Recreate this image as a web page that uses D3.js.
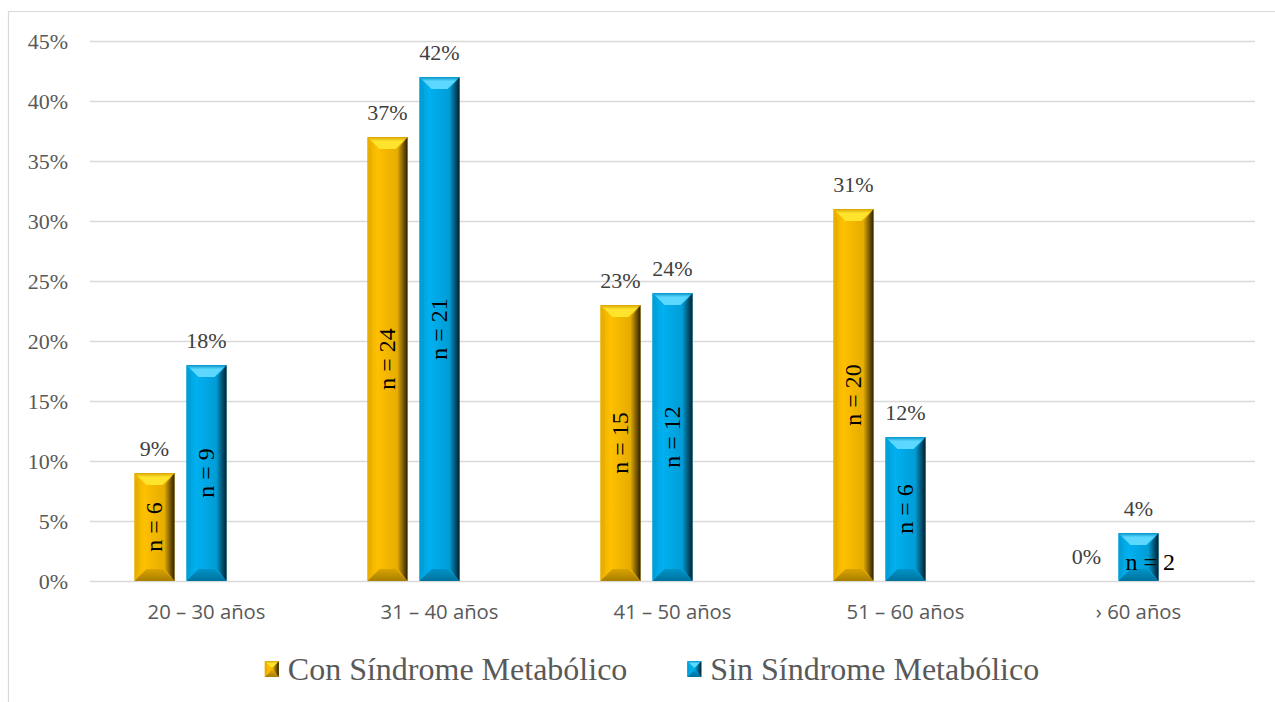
<!DOCTYPE html>
<html>
<head>
<meta charset="utf-8">
<script src="https://cdn.jsdelivr.net/npm/d3@7"></script>
<style>
  html, body { margin: 0; padding: 0; background: #fff; }
  svg { display: block; }
</style>
</head>
<body>
<svg id="chart" width="1275" height="702"></svg>
<script>
// Age groups and the share of patients in each, by metabolic syndrome status
const categories = ["20 – 30 años", "31 – 40 años", "41 – 50 años", "51 – 60 años", "› 60 años"];
const conValues = [9, 37, 23, 31, 0];
const sinValues = [18, 42, 24, 12, 4];
const conCounts = [6, 24, 15, 20, 0];
const sinCounts = [9, 21, 12, 6, 2];
const seriesNames = ["Con Síndrome Metabólico", "Sin Síndrome Metabólico"];
const yTicks = [0, 5, 10, 15, 20, 25, 30, 35, 40, 45];

const W = 1275, H = 702;
const plot = { left: 90, right: 1255, top: 41, bottom: 581 };

const svg = d3.select("#chart");

// chart frame
svg.append("path")
  .attr("d", `M8.5,${H} V11.5 H${W}`)
  .attr("fill", "none").attr("stroke", "#d9d9d9").attr("stroke-width", 1.2);

const y = d3.scaleLinear().domain([0, 45]).range([plot.bottom, plot.top]);
const x0 = d3.scaleBand().domain(categories).range([plot.left, plot.right]).padding(0);
// third slot is an empty series that keeps the pair offset left within each group
const x1 = d3.scaleBand().domain(["con", "sin", "blank"]).range([0, x0.bandwidth()])
  .paddingInner(0.23).paddingOuter(0.856);

// gridlines
svg.append("g").selectAll("line").data(yTicks).join("line")
  .attr("x1", plot.left).attr("x2", plot.right)
  .attr("y1", d => Math.round(y(d)) + 0.5).attr("y2", d => Math.round(y(d)) + 0.5)
  .attr("stroke", "#d9d9d9").attr("stroke-width", 1.3);

// y axis labels
const yAxis = d3.axisLeft(y).tickValues(yTicks).tickSize(0).tickPadding(0)
  .tickFormat(d => d + "%");
svg.append("g").attr("transform", `translate(68,0)`).call(yAxis)
  .call(g => g.select(".domain").remove())
  .selectAll("text")
  .attr("font-family", "'Liberation Serif', 'Times New Roman', serif")
  .attr("font-size", 22).attr("fill", "#595959").attr("dy", "0.34em");

// x axis labels
const xAxis = d3.axisBottom(x0).tickSize(0).tickPadding(0);
svg.append("g").attr("transform", `translate(0,${plot.bottom + 31})`).call(xAxis)
  .call(g => g.select(".domain").remove())
  .selectAll("text")
  .attr("font-family", "'Open Sans', 'Liberation Sans', sans-serif")
  .attr("font-size", 20.3).attr("fill", "#595959").attr("dy", "0.35em");

// bevel palettes
const palettes = {
  con: { main: "#ffc000", light: "#ffe42e", left: "#e8ae00", dark: "#2e2000", bottom: "#a87e00", mid: "#d9a300" },
  sin: { main: "#00b0f0", light: "#5cd8ff", left: "#009fd8", dark: "#00202e", bottom: "#00729c", mid: "#0093c8" }
};

const defs = svg.append("defs");
Object.entries(palettes).forEach(([k, p]) => {
  const gBody = defs.append("linearGradient").attr("id", "body-" + k)
    .attr("x1", 0).attr("x2", 1).attr("y1", 0).attr("y2", 0);
  gBody.append("stop").attr("offset", "0%").attr("stop-color", p.left);
  gBody.append("stop").attr("offset", "25%").attr("stop-color", p.main);
  gBody.append("stop").attr("offset", "100%").attr("stop-color", p.mid);
  const gRight = defs.append("linearGradient").attr("id", "right-" + k)
    .attr("x1", 0).attr("x2", 1).attr("y1", 0).attr("y2", 0);
  gRight.append("stop").attr("offset", "0%").attr("stop-color", p.mid);
  gRight.append("stop").attr("offset", "100%").attr("stop-color", p.dark);
  const gTop = defs.append("linearGradient").attr("id", "top-" + k)
    .attr("x1", 0).attr("x2", 0).attr("y1", 0).attr("y2", 1);
  gTop.append("stop").attr("offset", "0%").attr("stop-color", p.mid);
  gTop.append("stop").attr("offset", "35%").attr("stop-color", p.light);
  gTop.append("stop").attr("offset", "100%").attr("stop-color", p.light);
  const gBottom = defs.append("linearGradient").attr("id", "bottom-" + k)
    .attr("x1", 0).attr("x2", 0).attr("y1", 0).attr("y2", 1);
  gBottom.append("stop").attr("offset", "0%").attr("stop-color", p.mid);
  gBottom.append("stop").attr("offset", "100%").attr("stop-color", p.bottom);
});

// draws one beveled box
function bevelBox(g, k, bx, by, bw, bh, bev) {
  const b = Math.min(bev, bw / 2, bh / 2);
  const p = palettes[k];
  const pts = a => a.map(q => q.join(",")).join(" ");
  g.append("rect").attr("x", bx).attr("y", by).attr("width", bw).attr("height", bh)
    .attr("fill", `url(#body-${k})`);
  g.append("polygon").attr("points", pts([[bx, by + bh], [bx + b, by + bh - b], [bx + bw - b, by + bh - b], [bx + bw, by + bh]]))
    .attr("fill", `url(#bottom-${k})`);
  g.append("polygon").attr("points", pts([[bx, by], [bx + b * 0.35, by + b], [bx + b * 0.35, by + bh - b], [bx, by + bh]]))
    .attr("fill", p.left);
  g.append("polygon").attr("points", pts([[bx + bw, by], [bx + bw, by + bh], [bx + bw - b * 0.8, by + bh - b], [bx + bw - b * 0.8, by + b]]))
    .attr("fill", `url(#right-${k})`);
  g.append("polygon").attr("points", pts([[bx, by], [bx + bw, by], [bx + bw - b, by + b], [bx + b, by + b]]))
    .attr("fill", `url(#top-${k})`);
}

const rows = [];
categories.forEach((c, i) => {
  rows.push({ cat: c, key: "con", value: conValues[i], n: conCounts[i] });
  rows.push({ cat: c, key: "sin", value: sinValues[i], n: sinCounts[i] });
});

const serif = "'Liberation Serif', 'Times New Roman', serif";
const barsG = svg.append("g");
const labelsG = svg.append("g");

rows.forEach(d => {
  const bx = x0(d.cat) + x1(d.key);
  const bw = x1.bandwidth();
  const top = y(d.value);
  const bh = y(0) - top;
  if (d.value > 0) {
    bevelBox(barsG.append("g"), d.key, bx, top, bw, bh, 12);
  }
  // percentage above the bar
  labelsG.append("text")
    .attr("x", bx + bw / 2).attr("y", top - 17)
    .attr("text-anchor", "middle")
    .attr("font-family", serif).attr("font-size", 22).attr("fill", "#404040")
    .text(d.value + "%");
  // count inside the bar
  if (d.n > 0) {
    const cx = bx + bw / 2, cy = top + bh / 2;
    const t = labelsG.append("text")
      .attr("font-family", serif).attr("font-size", 24).attr("fill", "#000")
      .attr("dy", "0.33em")
      .text("n = " + d.n);
    const len = t.node().getComputedTextLength();
    if (len + 4 > bh) {
      // too short to hold the rotated label: lay it flat from the bar's left side
      t.attr("text-anchor", "start").attr("x", bx + 7).attr("y", cy + 5);
    } else {
      t.attr("text-anchor", "middle")
        .attr("transform", `translate(${cx},${cy}) rotate(-90)`);
    }
  }
});

// legend
const legend = svg.append("g");
const legendY = 669;
let cursor = 0;
seriesNames.forEach((name, i) => {
  const k = i === 0 ? "con" : "sin";
  const g = legend.append("g");
  bevelBox(g, k, cursor, legendY - 8, 14, 16, 7);
  const t = g.append("text")
    .attr("x", cursor + 23).attr("y", legendY).attr("dy", "0.33em")
    .attr("font-family", serif).attr("font-size", 32).attr("fill", "#595959")
    .text(name);
  cursor += 23 + t.node().getComputedTextLength() + 60;
});
const legendWidth = cursor - 60;
legend.attr("transform", `translate(${652 - legendWidth / 2},0)`);
</script>
</body>
</html>
